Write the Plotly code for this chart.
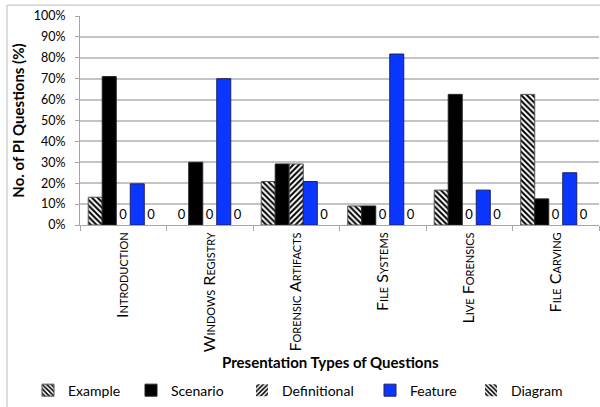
import plotly.graph_objects as go

# Share of PI questions per topic, split by presentation type (percent)
categories = ["Introduction", "Windows Registry", "Forensic Artifacts",
              "File Systems", "Live Forensics", "File Carving"]
series_names = ["Example", "Scenario", "Definitional", "Feature", "Diagram"]
example = [13.3, 0, 20.8, 9.1, 16.7, 62.5]
scenario = [71.0, 30.0, 29.2, 9.1, 62.5, 12.5]
definitional = [0, 0, 29.2, 0, 0, 0]
feature = [19.7, 70.0, 20.8, 81.8, 16.7, 25.0]
diagram = [0, 0, 0, 0, 0, 0]
y_ticks = list(range(0, 101, 10))
y_tick_labels = [f"{v}%" for v in y_ticks]

values = [example, scenario, definitional, feature, diagram]

FONT = "Lato"
W, H = 600, 407
L, R, T, B = 80, 1, 16, 180
PW, PH = W - L - R, H - T - B

def px_x(p):
    return (p - L) / PW

def px_y(p):
    return (H - B - p) / PH

hatch_back = dict(shape="\\", fgcolor="black", bgcolor="white", fgopacity=1,
                  size=4, solidity=0.5)
hatch_fwd = dict(shape="/", fgcolor="black", bgcolor="white", fgopacity=1,
                 size=4, solidity=0.5)
styles = [
    dict(fill="white", edge="#555555", pattern=hatch_back),
    dict(fill="black", edge="#222222", pattern=None),
    dict(fill="white", edge="#555555", pattern=hatch_fwd),
    dict(fill="#0a36ff", edge="#1a2060", pattern=None),
    dict(fill="white", edge="#555555", pattern=hatch_back),
]
legend_widths = [58, 66, 83, 56, 60]

fig = go.Figure()
for name, vals, st, lw in zip(series_names, values, styles, legend_widths):
    marker = dict(color=st["fill"],
                  line=dict(color=st["edge"], width=[1 if v else 0 for v in vals]))
    if st["pattern"]:
        marker["pattern"] = st["pattern"]
    fig.add_trace(go.Bar(
        x=categories, y=vals, name=name, marker=marker,
        text=["0" if v == 0 else "" for v in vals],
        textposition="outside", cliponaxis=False,
        textfont=dict(family=FONT, size=13, color="black"),
        legendwidth=lw,
    ))

fig.update_layout(
    width=W, height=H,
    margin=dict(l=L, r=R, t=T, b=B),
    paper_bgcolor="white", plot_bgcolor="white",
    barmode="group", bargap=0.19, bargroupgap=0,
    font=dict(family=FONT, color="black"),
    showlegend=True,
    legend=dict(orientation="h", x=px_x(28), xanchor="left",
                y=px_y(378), yanchor="top",
                font=dict(family=FONT, size=14), traceorder="normal"),
    xaxis=dict(
        tickangle=-90, tickson="boundaries", ticks="outside", ticklen=5,
        tickcolor="#a6a6a6", showline=True, linecolor="#a6a6a6", linewidth=1,
        tickfont=dict(family=FONT, size=16, variant="small-caps"),
        showgrid=False,
    ),
    yaxis=dict(
        range=[0, 100], tickvals=y_ticks, ticktext=y_tick_labels,
        ticks="outside", ticklen=4, tickcolor="#a6a6a6",
        showline=True, linecolor="#a6a6a6", linewidth=1,
        showgrid=True, gridcolor="#c4c4c4", gridwidth=1.5,
        zeroline=False, ticklabelstandoff=7,
        tickfont=dict(family=FONT, size=12.5),
        title=dict(text="<b>No. of PI Questions (%)</b>",
                   font=dict(family=FONT, size=15), standoff=5),
    ),
    annotations=[dict(
        text="<b>Presentation Types of Questions</b>",
        x=px_x(330), y=px_y(365), xref="paper", yref="paper",
        showarrow=False, font=dict(family=FONT, size=15),
        xanchor="center", yanchor="middle",
    )],
    shapes=[dict(
        type="rect", xref="paper", yref="paper", layer="below",
        x0=px_x(7), x1=px_x(640), y0=px_y(440), y1=px_y(5),
        line=dict(color="#bdbdbd", width=1),
    )],
)

fig.write_html("out.html")
